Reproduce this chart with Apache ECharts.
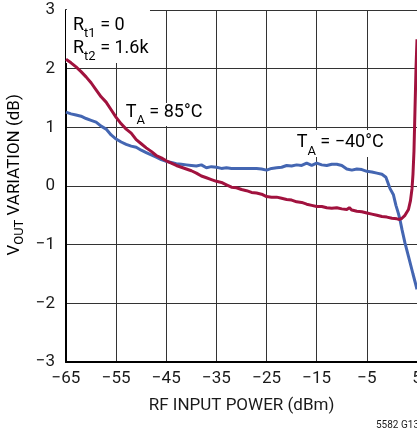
<!DOCTYPE html>
<html><head><meta charset="utf-8">
<script src="https://cdn.jsdelivr.net/npm/echarts@6/dist/echarts.min.js"></script>
<style>html,body{margin:0;padding:0;background:#fff}#c{width:417px;height:435px}</style>
</head><body><div id="c"></div>
<script>
// ---- data ----
const xTicks = [-65, -55, -45, -35, -25, -15, -5, 5];
const yTicks = [-3, -2, -1, 0, 1, 2, 3];
const xTitle = 'RF INPUT POWER (dBm)';
const footer = '5582 G13';

// TA = -40°C (blue)
const coldX = [-65,-64,-63,-62,-61,-60,-59,-58,-57,-56,-55,-54,-53,-52,-51,-50,-49,-48,-47,-46,-45,-44,-43,-42,-41,-40,-39,-38,-37,-36,-35,-34,-33,-32,-31,-30,-29,-28,-27,-26,-25,-24,-23,-22,-21,-20,-19,-18,-17,-16,-15,-14,-13,-12,-11,-10,-9,-8,-7,-6,-5,-4,-3,-2,-1.2,-0.4,0.3,0.8,1.3,1.6,2.0,2.6,3.3,4.2,5];
const coldY = [1.26,1.23,1.21,1.19,1.15,1.12,1.09,1.02,0.97,0.87,0.80,0.75,0.71,0.68,0.66,0.61,0.57,0.53,0.49,0.45,0.42,0.40,0.38,0.37,0.36,0.35,0.34,0.36,0.31,0.33,0.32,0.30,0.31,0.30,0.30,0.30,0.30,0.30,0.30,0.29,0.27,0.30,0.31,0.32,0.35,0.34,0.36,0.35,0.39,0.35,0.39,0.36,0.35,0.37,0.37,0.35,0.29,0.27,0.29,0.28,0.25,0.24,0.22,0.20,0.15,-0.04,-0.15,-0.33,-0.47,-0.57,-0.74,-0.97,-1.20,-1.50,-1.76];

// TA = 85°C (red)
const hotX = [-65,-64,-63,-62,-61,-60,-59,-58,-57,-56,-55,-54,-53,-52,-51,-50,-49,-48,-47,-46,-45,-44,-43,-42,-41,-40,-39,-38,-37,-36,-35,-34,-33,-32,-31,-30,-29,-28,-27,-26,-25,-24,-23,-22,-21,-20,-19,-18,-17,-16,-15,-14,-13,-12,-11,-10,-9,-8.5,-8,-7,-6,-5,-4,-3,-2,-1,0,1,1.5,2,2.6,3.3,3.7,4.0,4.2,4.4,4.6,4.8,5];
const hotY = [2.16,2.10,2.03,1.95,1.86,1.76,1.64,1.52,1.43,1.30,1.17,1.06,0.97,0.90,0.79,0.72,0.65,0.59,0.52,0.48,0.43,0.39,0.35,0.32,0.29,0.26,0.22,0.17,0.14,0.11,0.08,0.06,0.02,-0.02,-0.03,-0.06,-0.08,-0.11,-0.12,-0.14,-0.18,-0.19,-0.19,-0.21,-0.23,-0.24,-0.27,-0.28,-0.31,-0.33,-0.35,-0.35,-0.37,-0.38,-0.37,-0.39,-0.40,-0.37,-0.41,-0.43,-0.44,-0.46,-0.48,-0.50,-0.52,-0.53,-0.55,-0.56,-0.57,-0.55,-0.50,-0.40,-0.25,-0.05,0.20,0.60,1.30,2.00,2.50];

// ---- layout / style ----
const FONT = 'Roboto, "Liberation Sans", sans-serif';
const INK = '#1a1a1a';
const mkRich = (main, sub, lh) => ({
  n: {fontSize: main, fontFamily: FONT, color: INK, lineHeight: lh, verticalAlign: 'top'},
  s: {fontSize: sub, fontFamily: FONT, color: INK, lineHeight: lh, verticalAlign: 'bottom'}
});
const noteRich = mkRich(18, 13, 24);
const titleRich = mkRich(17, 13, 20);
const annotations = [
  {text: '{n|R}{s|t1}{n| = 0}', at: [-63.6, 2.744]},
  {text: '{n|R}{s|t2}{n| = 1.6k}', at: [-63.6, 2.352]},
  {text: '{n|T}{s|A}{n| = 85°C}', at: [-53.1, 1.261]},
  {text: '{n|T}{s|A}{n| = \u221240°C}', at: [-19.0, 0.733]}
];
const boxes = [
  [[-65, 3], [-48.25, 2.097]],
  [[-54.03, 1.415], [-38.28, 1.023]],
  [[-19.93, 0.955], [-2.38, 0.494]]
];

const pairs = (xs, ys) => xs.map((x, i) => [x, ys[i]]);
const minus = v => String(v).replace('-', '\u2212');

const chart = echarts.init(document.getElementById('c'), null, {renderer: 'canvas'});
chart.setOption({
  animation: false,
  backgroundColor: '#fff',
  grid: {left: 66, right: 0, top: 10, bottom: 73, containLabel: false, outerBoundsMode: 'none'},
  xAxis: {
    type: 'value', min: xTicks[0], max: xTicks[xTicks.length - 1],
    axisLine: {show: true, onZero: false, lineStyle: {color: '#000', width: 2}},
    axisTick: {show: false, customValues: xTicks},
    axisLabel: {customValues: xTicks, formatter: minus, color: INK, fontSize: 17, fontFamily: FONT, margin: 8},
    splitLine: {show: true, lineStyle: {color: '#333', width: 1}},
    name: xTitle, nameLocation: 'middle', nameGap: 35,
    nameTextStyle: {color: INK, fontSize: 17, fontFamily: FONT}
  },
  yAxis: {
    type: 'value', min: yTicks[0], max: yTicks[yTicks.length - 1], interval: 1,
    axisLine: {show: true, onZero: false, lineStyle: {color: '#000', width: 2}},
    axisTick: {show: false},
    axisLabel: {formatter: minus, color: INK, fontSize: 17, fontFamily: FONT, margin: 11},
    splitLine: {show: true, lineStyle: {color: '#333', width: 1}}
  },
  series: [
    {type: 'line', name: 'TA = −40°C', data: pairs(coldX, coldY), showSymbol: false, smooth: false,
     lineStyle: {color: '#4466b2', width: 3}, z: 3, clip: true},
    {type: 'line', name: 'TA = 85°C', data: pairs(hotX, hotY), showSymbol: false, smooth: false,
     lineStyle: {color: '#a1123e', width: 3}, z: 4, clip: true}
  ]
});

const px = p => chart.convertToPixel({gridIndex: 0}, p);
const graphics = [];
boxes.forEach(b => {
  const a = px(b[0]), c = px(b[1]);
  graphics.push({type: 'rect', z: 1, silent: true,
    shape: {x: a[0], y: a[1], width: c[0] - a[0], height: c[1] - a[1]},
    style: {fill: '#fff'}});
});
annotations.forEach(t => {
  const p = px(t.at);
  graphics.push({type: 'text', z: 5, silent: true, x: p[0], y: p[1] - 9,
    style: {text: t.text, rich: noteRich, align: 'left', verticalAlign: 'top'}});
});
// y axis title (rotated)
const yMid = px([-65, 0.19]);
graphics.push({type: 'text', z: 5, silent: true, x: 6.5, y: yMid[1], rotation: Math.PI / 2,
  style: {text: '{n|V}{s|OUT}{n| VARIATION (dB)}', rich: titleRich, align: 'center', verticalAlign: 'top'}});
// footer
graphics.push({type: 'text', z: 5, silent: true, x: 376, y: 425,
  style: {text: footer, fill: INK, fontSize: 10, fontFamily: FONT, align: 'left', verticalAlign: 'middle'}});
chart.setOption({graphic: graphics});
</script>
</body></html>
